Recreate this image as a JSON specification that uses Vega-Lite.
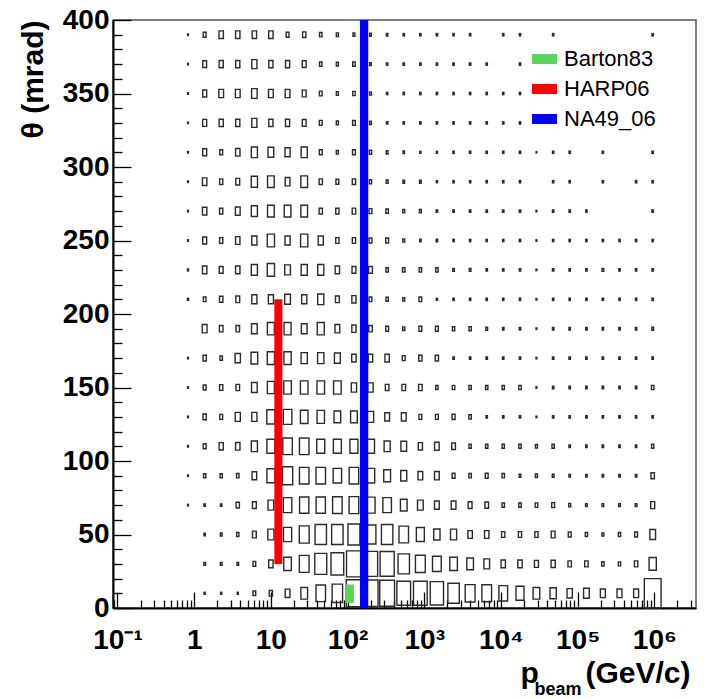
{
"$schema": "https://vega.github.io/schema/vega-lite/v6.json",
"width": 583, "height": 588,
"autosize": {"type": "none"},
"padding": {"left": 113, "top": 20, "right": 8, "bottom": 91},
"background": "white",
"config": {"view": {"stroke": "#555", "strokeWidth": 1.5}, "font": "Liberation Sans"},
"datasets": {
"cells": [
{"p":1.37,"t":10,"n":2},{"p":2.25,"t":10,"n":2},{"p":3.7,"t":10,"n":2},{"p":6.09,"t":10,"n":4.7},{"p":10,"t":10,"n":5.7},{"p":16.5,"t":10,"n":8.3},{"p":27.2,"t":10,"n":11.7},{"p":44.7,"t":10,"n":16.7},{"p":73.6,"t":10,"n":18.3},{"p":121,"t":10,"n":27},{"p":199,"t":10,"n":26.5},{"p":328,"t":10,"n":26},{"p":540,"t":10,"n":24},{"p":889,"t":10,"n":24},{"p":1460,"t":10,"n":23.3},{"p":2410,"t":10,"n":20},{"p":3960,"t":10,"n":17.3},{"p":6520,"t":10,"n":17},{"p":10700,"t":10,"n":15.3},{"p":17700,"t":10,"n":14},{"p":29000,"t":10,"n":11.7},{"p":47900,"t":10,"n":11},{"p":78700,"t":10,"n":9.3},{"p":130000,"t":10,"n":10},{"p":213000,"t":10,"n":8.7},{"p":351000,"t":10,"n":8.7},{"p":578000,"t":10,"n":8.7},{"p":951000,"t":10,"n":29.4},
{"p":1.37,"t":30,"n":3},{"p":2.25,"t":30,"n":3},{"p":3.7,"t":30,"n":3},{"p":6.09,"t":30,"n":4.7},{"p":10,"t":30,"n":7.7},{"p":16.5,"t":30,"n":13.3},{"p":27.2,"t":30,"n":17},{"p":44.7,"t":30,"n":21},{"p":73.6,"t":30,"n":22.3},{"p":121,"t":30,"n":26},{"p":199,"t":30,"n":25},{"p":328,"t":30,"n":24.7},{"p":540,"t":30,"n":20},{"p":889,"t":30,"n":17.3},{"p":1460,"t":30,"n":15.3},{"p":2410,"t":30,"n":13.3},{"p":3960,"t":30,"n":11.7},{"p":6520,"t":30,"n":10},{"p":10700,"t":30,"n":7.7},{"p":17700,"t":30,"n":7.7},{"p":29000,"t":30,"n":7},{"p":47900,"t":30,"n":7.3},{"p":78700,"t":30,"n":6},{"p":130000,"t":30,"n":6},{"p":213000,"t":30,"n":4.3},{"p":351000,"t":30,"n":4},{"p":578000,"t":30,"n":6},{"p":951000,"t":30,"n":12.7},
{"p":1.37,"t":50,"n":2.5},{"p":2.25,"t":50,"n":3},{"p":3.7,"t":50,"n":4},{"p":6.09,"t":50,"n":6.7},{"p":10,"t":50,"n":10.7},{"p":16.5,"t":50,"n":14.3},{"p":27.2,"t":50,"n":17.3},{"p":44.7,"t":50,"n":20},{"p":73.6,"t":50,"n":20},{"p":121,"t":50,"n":21},{"p":199,"t":50,"n":19},{"p":328,"t":50,"n":20},{"p":540,"t":50,"n":16.7},{"p":889,"t":50,"n":14},{"p":1460,"t":50,"n":11},{"p":2410,"t":50,"n":10.7},{"p":3960,"t":50,"n":7.7},{"p":6520,"t":50,"n":7.7},{"p":10700,"t":50,"n":5.7},{"p":17700,"t":50,"n":5.7},{"p":29000,"t":50,"n":5.7},{"p":47900,"t":50,"n":6.7},{"p":78700,"t":50,"n":5},{"p":130000,"t":50,"n":4},{"p":213000,"t":50,"n":3.3},{"p":351000,"t":50,"n":4},{"p":578000,"t":50,"n":5},{"p":951000,"t":50,"n":10},
{"p":0.83,"t":70,"n":1.5},{"p":1.37,"t":70,"n":2.5},{"p":2.25,"t":70,"n":2.5},{"p":3.7,"t":70,"n":5.7},{"p":6.09,"t":70,"n":6.7},{"p":10,"t":70,"n":10},{"p":16.5,"t":70,"n":15},{"p":27.2,"t":70,"n":16.3},{"p":44.7,"t":70,"n":16.3},{"p":73.6,"t":70,"n":16.7},{"p":121,"t":70,"n":17},{"p":199,"t":70,"n":16},{"p":328,"t":70,"n":15},{"p":540,"t":70,"n":11.7},{"p":889,"t":70,"n":10},{"p":1460,"t":70,"n":8.3},{"p":2410,"t":70,"n":8.3},{"p":3960,"t":70,"n":6.7},{"p":6520,"t":70,"n":6.3},{"p":10700,"t":70,"n":4.3},{"p":17700,"t":70,"n":4.3},{"p":29000,"t":70,"n":4.5},{"p":47900,"t":70,"n":5},{"p":78700,"t":70,"n":3.5},{"p":130000,"t":70,"n":3},{"p":213000,"t":70,"n":3},{"p":351000,"t":70,"n":3},{"p":578000,"t":70,"n":3},{"p":951000,"t":70,"n":7},
{"p":0.83,"t":90,"n":1.5},{"p":1.37,"t":90,"n":4},{"p":2.25,"t":90,"n":4},{"p":3.7,"t":90,"n":4.3},{"p":6.09,"t":90,"n":8},{"p":10,"t":90,"n":14},{"p":16.5,"t":90,"n":18},{"p":27.2,"t":90,"n":16.7},{"p":44.7,"t":90,"n":16.7},{"p":73.6,"t":90,"n":14.7},{"p":121,"t":90,"n":16.7},{"p":199,"t":90,"n":14.7},{"p":328,"t":90,"n":12},{"p":540,"t":90,"n":10.5},{"p":889,"t":90,"n":8.3},{"p":1460,"t":90,"n":8.3},{"p":2410,"t":90,"n":5},{"p":3960,"t":90,"n":4.3},{"p":6520,"t":90,"n":5},{"p":10700,"t":90,"n":4.3},{"p":17700,"t":90,"n":3},{"p":29000,"t":90,"n":3.5},{"p":47900,"t":90,"n":3},{"p":78700,"t":90,"n":2.7},{"p":130000,"t":90,"n":2.7},{"p":213000,"t":90,"n":2.7},{"p":351000,"t":90,"n":2.7},{"p":578000,"t":90,"n":2.7},{"p":951000,"t":90,"n":6},
{"p":0.83,"t":110,"n":1.5},{"p":1.37,"t":110,"n":5},{"p":2.25,"t":110,"n":7.3},{"p":3.7,"t":110,"n":7.7},{"p":6.09,"t":110,"n":10.7},{"p":10,"t":110,"n":14},{"p":16.5,"t":110,"n":16.7},{"p":27.2,"t":110,"n":16.7},{"p":44.7,"t":110,"n":14},{"p":73.6,"t":110,"n":14},{"p":121,"t":110,"n":14},{"p":199,"t":110,"n":14},{"p":328,"t":110,"n":10.7},{"p":540,"t":110,"n":10},{"p":889,"t":110,"n":7.3},{"p":1460,"t":110,"n":8},{"p":2410,"t":110,"n":6.5},{"p":3960,"t":110,"n":4},{"p":6520,"t":110,"n":4},{"p":10700,"t":110,"n":4},{"p":17700,"t":110,"n":4},{"p":29000,"t":110,"n":3.5},{"p":47900,"t":110,"n":4},{"p":78700,"t":110,"n":2.5},{"p":130000,"t":110,"n":2.5},{"p":213000,"t":110,"n":2.5},{"p":351000,"t":110,"n":2.5},{"p":578000,"t":110,"n":2.5},{"p":951000,"t":110,"n":4},
{"p":0.83,"t":130,"n":1.5},{"p":1.37,"t":130,"n":5.7},{"p":2.25,"t":130,"n":5},{"p":3.7,"t":130,"n":9},{"p":6.09,"t":130,"n":9},{"p":10,"t":130,"n":14.3},{"p":16.5,"t":130,"n":15},{"p":27.2,"t":130,"n":13.3},{"p":44.7,"t":130,"n":13},{"p":73.6,"t":130,"n":11.7},{"p":121,"t":130,"n":11.7},{"p":199,"t":130,"n":11},{"p":328,"t":130,"n":8.3},{"p":540,"t":130,"n":8.3},{"p":889,"t":130,"n":5},{"p":1460,"t":130,"n":5},{"p":2410,"t":130,"n":5.3},{"p":3960,"t":130,"n":4.3},{"p":6520,"t":130,"n":2.5},{"p":10700,"t":130,"n":2.5},{"p":17700,"t":130,"n":2.5},{"p":29000,"t":130,"n":1.5},{"p":47900,"t":130,"n":2.5},{"p":78700,"t":130,"n":2.5},{"p":130000,"t":130,"n":2.5},{"p":213000,"t":130,"n":2.5},{"p":351000,"t":130,"n":2.5},{"p":578000,"t":130,"n":2.5},{"p":951000,"t":130,"n":2.5},
{"p":0.83,"t":150,"n":1.5},{"p":1.37,"t":150,"n":5},{"p":2.25,"t":150,"n":5.7},{"p":3.7,"t":150,"n":6.3},{"p":6.09,"t":150,"n":10},{"p":10,"t":150,"n":12.3},{"p":16.5,"t":150,"n":13.3},{"p":27.2,"t":150,"n":13.3},{"p":44.7,"t":150,"n":13.3},{"p":73.6,"t":150,"n":13.3},{"p":121,"t":150,"n":9.3},{"p":199,"t":150,"n":9.3},{"p":328,"t":150,"n":6.3},{"p":540,"t":150,"n":6.3},{"p":889,"t":150,"n":6.3},{"p":1460,"t":150,"n":4},{"p":2410,"t":150,"n":4.3},{"p":3960,"t":150,"n":4},{"p":6520,"t":150,"n":4},{"p":10700,"t":150,"n":4},{"p":17700,"t":150,"n":4.3},{"p":29000,"t":150,"n":1.5},{"p":47900,"t":150,"n":2.5},{"p":78700,"t":150,"n":2.5},{"p":130000,"t":150,"n":2.5},{"p":213000,"t":150,"n":2.5},{"p":351000,"t":150,"n":2.5},{"p":578000,"t":150,"n":2.5},{"p":951000,"t":150,"n":4.3},
{"p":0.83,"t":170,"n":1.5},{"p":1.37,"t":170,"n":5.7},{"p":2.25,"t":170,"n":4.3},{"p":3.7,"t":170,"n":9.3},{"p":6.09,"t":170,"n":11.7},{"p":10,"t":170,"n":12.7},{"p":16.5,"t":170,"n":12.7},{"p":27.2,"t":170,"n":11},{"p":44.7,"t":170,"n":11},{"p":73.6,"t":170,"n":10.3},{"p":121,"t":170,"n":7.7},{"p":199,"t":170,"n":7.7},{"p":328,"t":170,"n":7.7},{"p":540,"t":170,"n":5},{"p":889,"t":170,"n":5.7},{"p":1460,"t":170,"n":5.7},{"p":2410,"t":170,"n":2.5},{"p":3960,"t":170,"n":2.5},{"p":6520,"t":170,"n":2.5},{"p":10700,"t":170,"n":2.5},{"p":17700,"t":170,"n":2.5},{"p":29000,"t":170,"n":1.5},{"p":47900,"t":170,"n":2.5},{"p":78700,"t":170,"n":2.5},{"p":130000,"t":170,"n":2.5},{"p":213000,"t":170,"n":2.5},{"p":351000,"t":170,"n":2.5},{"p":578000,"t":170,"n":2.5},{"p":951000,"t":170,"n":2.5},
{"p":1.37,"t":190,"n":8.3},{"p":2.25,"t":190,"n":6.3},{"p":3.7,"t":190,"n":6.3},{"p":6.09,"t":190,"n":10},{"p":10,"t":190,"n":12.3},{"p":16.5,"t":190,"n":12.3},{"p":27.2,"t":190,"n":10},{"p":44.7,"t":190,"n":12.3},{"p":73.6,"t":190,"n":8.3},{"p":121,"t":190,"n":7.3},{"p":199,"t":190,"n":6.3},{"p":328,"t":190,"n":5},{"p":540,"t":190,"n":3.7},{"p":889,"t":190,"n":5},{"p":1460,"t":190,"n":5},{"p":2410,"t":190,"n":4},{"p":3960,"t":190,"n":4},{"p":6520,"t":190,"n":3},{"p":10700,"t":190,"n":2.5},{"p":17700,"t":190,"n":2.5},{"p":29000,"t":190,"n":1.5},{"p":47900,"t":190,"n":2.5},{"p":78700,"t":190,"n":2.5},{"p":130000,"t":190,"n":2.5},{"p":213000,"t":190,"n":2.5},{"p":351000,"t":190,"n":2.5},{"p":578000,"t":190,"n":2.5},{"p":951000,"t":190,"n":3},
{"p":0.83,"t":210,"n":2},{"p":1.37,"t":210,"n":4.7},{"p":2.25,"t":210,"n":6},{"p":3.7,"t":210,"n":6.7},{"p":6.09,"t":210,"n":9},{"p":10,"t":210,"n":9},{"p":16.5,"t":210,"n":10},{"p":27.2,"t":210,"n":9},{"p":44.7,"t":210,"n":10.7},{"p":73.6,"t":210,"n":6.7},{"p":121,"t":210,"n":7.3},{"p":199,"t":210,"n":4.7},{"p":328,"t":210,"n":4},{"p":540,"t":210,"n":3.3},{"p":889,"t":210,"n":4.7},{"p":1460,"t":210,"n":2},{"p":2410,"t":210,"n":2.3},{"p":3960,"t":210,"n":2.3},{"p":6520,"t":210,"n":2.3},{"p":10700,"t":210,"n":2.3},{"p":17700,"t":210,"n":2.3},{"p":29000,"t":210,"n":1.5},{"p":47900,"t":210,"n":2.3},{"p":78700,"t":210,"n":2.3},{"p":130000,"t":210,"n":2.3},{"p":213000,"t":210,"n":2.3},{"p":351000,"t":210,"n":2.3},{"p":578000,"t":210,"n":2.3},{"p":951000,"t":210,"n":2.3},
{"p":0.83,"t":230,"n":2},{"p":1.37,"t":230,"n":7.7},{"p":2.25,"t":230,"n":6.7},{"p":3.7,"t":230,"n":7.7},{"p":6.09,"t":230,"n":10.7},{"p":10,"t":230,"n":12.7},{"p":16.5,"t":230,"n":10},{"p":27.2,"t":230,"n":10.7},{"p":44.7,"t":230,"n":10.7},{"p":73.6,"t":230,"n":7.7},{"p":121,"t":230,"n":6.7},{"p":199,"t":230,"n":6.7},{"p":328,"t":230,"n":4.3},{"p":540,"t":230,"n":4.3},{"p":889,"t":230,"n":4.3},{"p":1460,"t":230,"n":4.3},{"p":2410,"t":230,"n":3},{"p":3960,"t":230,"n":3},{"p":6520,"t":230,"n":2.5},{"p":10700,"t":230,"n":2.5},{"p":17700,"t":230,"n":2.5},{"p":29000,"t":230,"n":1.5},{"p":47900,"t":230,"n":2.5},{"p":78700,"t":230,"n":2.5},{"p":130000,"t":230,"n":2.5},{"p":213000,"t":230,"n":3},{"p":351000,"t":230,"n":2.5},{"p":578000,"t":230,"n":2.5},{"p":951000,"t":230,"n":2.5},
{"p":0.83,"t":250,"n":1.5},{"p":1.37,"t":250,"n":7},{"p":2.25,"t":250,"n":5.7},{"p":3.7,"t":250,"n":7.7},{"p":6.09,"t":250,"n":9},{"p":10,"t":250,"n":12.7},{"p":16.5,"t":250,"n":9},{"p":27.2,"t":250,"n":12.7},{"p":44.7,"t":250,"n":9},{"p":73.6,"t":250,"n":5.7},{"p":121,"t":250,"n":5.7},{"p":199,"t":250,"n":5},{"p":328,"t":250,"n":5},{"p":540,"t":250,"n":3.3},{"p":889,"t":250,"n":2.5},{"p":1460,"t":250,"n":2.5},{"p":2410,"t":250,"n":2.3},{"p":3960,"t":250,"n":2.3},{"p":6520,"t":250,"n":2.3},{"p":10700,"t":250,"n":2.3},{"p":17700,"t":250,"n":2.3},{"p":29000,"t":250,"n":1.5},{"p":47900,"t":250,"n":2.3},{"p":78700,"t":250,"n":2.3},{"p":130000,"t":250,"n":2.3},{"p":213000,"t":250,"n":2.3},{"p":351000,"t":250,"n":2.3},{"p":578000,"t":250,"n":2.3},{"p":951000,"t":250,"n":2.3},
{"p":0.83,"t":270,"n":1.5},{"p":1.37,"t":270,"n":7.7},{"p":2.25,"t":270,"n":5.7},{"p":3.7,"t":270,"n":8.3},{"p":6.09,"t":270,"n":10.7},{"p":10,"t":270,"n":11.7},{"p":16.5,"t":270,"n":11.7},{"p":27.2,"t":270,"n":11.7},{"p":44.7,"t":270,"n":5.7},{"p":73.6,"t":270,"n":5.7},{"p":121,"t":270,"n":6},{"p":199,"t":270,"n":5},{"p":328,"t":270,"n":4.3},{"p":540,"t":270,"n":3.3},{"p":889,"t":270,"n":3.3},{"p":1460,"t":270,"n":2.5},{"p":2410,"t":270,"n":2.5},{"p":3960,"t":270,"n":2.5},{"p":6520,"t":270,"n":2.5},{"p":10700,"t":270,"n":2.5},{"p":17700,"t":270,"n":2.5},{"p":29000,"t":270,"n":1.5},{"p":47900,"t":270,"n":2.5},{"p":78700,"t":270,"n":2.5},{"p":130000,"t":270,"n":2.3},{"p":951000,"t":270,"n":2.5},
{"p":0.83,"t":290,"n":1.5},{"p":1.37,"t":290,"n":7.7},{"p":2.25,"t":290,"n":5.7},{"p":3.7,"t":290,"n":6.7},{"p":6.09,"t":290,"n":11},{"p":10,"t":290,"n":11.7},{"p":16.5,"t":290,"n":8.3},{"p":27.2,"t":290,"n":11.7},{"p":44.7,"t":290,"n":5.7},{"p":73.6,"t":290,"n":5},{"p":121,"t":290,"n":5.7},{"p":199,"t":290,"n":4},{"p":328,"t":290,"n":3.3},{"p":540,"t":290,"n":3},{"p":889,"t":290,"n":3},{"p":1460,"t":290,"n":2},{"p":2410,"t":290,"n":2.3},{"p":3960,"t":290,"n":2.3},{"p":6520,"t":290,"n":2.3},{"p":10700,"t":290,"n":2.3},{"p":17700,"t":290,"n":2.3},{"p":47900,"t":290,"n":2.3},{"p":78700,"t":290,"n":2.3},{"p":213000,"t":290,"n":2.3},{"p":578000,"t":290,"n":2.3},{"p":951000,"t":290,"n":2.3},
{"p":0.83,"t":310,"n":1.5},{"p":1.37,"t":310,"n":7},{"p":2.25,"t":310,"n":5},{"p":3.7,"t":310,"n":7.7},{"p":6.09,"t":310,"n":10.7},{"p":10,"t":310,"n":10},{"p":16.5,"t":310,"n":9},{"p":27.2,"t":310,"n":10.7},{"p":44.7,"t":310,"n":5},{"p":73.6,"t":310,"n":3.7},{"p":121,"t":310,"n":5},{"p":199,"t":310,"n":4},{"p":328,"t":310,"n":3.3},{"p":540,"t":310,"n":2.5},{"p":889,"t":310,"n":2},{"p":1460,"t":310,"n":2},{"p":2410,"t":310,"n":2.3},{"p":3960,"t":310,"n":2.3},{"p":6520,"t":310,"n":2.3},{"p":10700,"t":310,"n":2.3},{"p":17700,"t":310,"n":2.3},{"p":29000,"t":310,"n":1.2},{"p":47900,"t":310,"n":2.3},{"p":78700,"t":310,"n":2.3},{"p":213000,"t":310,"n":2.3},{"p":951000,"t":310,"n":2.3},
{"p":0.83,"t":330,"n":1.5},{"p":1.37,"t":330,"n":7},{"p":2.25,"t":330,"n":7.3},{"p":3.7,"t":330,"n":7.3},{"p":6.09,"t":330,"n":9},{"p":10,"t":330,"n":7.3},{"p":16.5,"t":330,"n":7.3},{"p":27.2,"t":330,"n":6.7},{"p":44.7,"t":330,"n":5},{"p":73.6,"t":330,"n":3.7},{"p":121,"t":330,"n":4.7},{"p":199,"t":330,"n":3.3},{"p":328,"t":330,"n":2.5},{"p":540,"t":330,"n":2.3},{"p":889,"t":330,"n":2.3},{"p":1460,"t":330,"n":2.3},{"p":2410,"t":330,"n":2.3},{"p":3960,"t":330,"n":2.3},{"p":6520,"t":330,"n":2.3},{"p":10700,"t":330,"n":2.3},{"p":17700,"t":330,"n":2.3},
{"p":0.83,"t":350,"n":1.5},{"p":1.37,"t":350,"n":7},{"p":2.25,"t":350,"n":8.3},{"p":3.7,"t":350,"n":8.3},{"p":6.09,"t":350,"n":9.7},{"p":10,"t":350,"n":8.3},{"p":16.5,"t":350,"n":8.3},{"p":27.2,"t":350,"n":6.7},{"p":44.7,"t":350,"n":4.7},{"p":73.6,"t":350,"n":3.7},{"p":121,"t":350,"n":4.3},{"p":199,"t":350,"n":3.3},{"p":328,"t":350,"n":2.3},{"p":540,"t":350,"n":2.3},{"p":889,"t":350,"n":2.3},{"p":1460,"t":350,"n":2.3},{"p":2410,"t":350,"n":2.3},{"p":3960,"t":350,"n":2.3},{"p":6520,"t":350,"n":2.3},{"p":10700,"t":350,"n":2.3},{"p":17700,"t":350,"n":2.3},
{"p":0.83,"t":370,"n":1.5},{"p":1.37,"t":370,"n":6.7},{"p":2.25,"t":370,"n":7.3},{"p":3.7,"t":370,"n":7.3},{"p":6.09,"t":370,"n":9},{"p":10,"t":370,"n":7.3},{"p":16.5,"t":370,"n":7.3},{"p":27.2,"t":370,"n":6.7},{"p":44.7,"t":370,"n":4.3},{"p":73.6,"t":370,"n":3.7},{"p":121,"t":370,"n":4.3},{"p":199,"t":370,"n":3},{"p":328,"t":370,"n":2.3},{"p":540,"t":370,"n":2.3},{"p":889,"t":370,"n":2.3},{"p":1460,"t":370,"n":2.3},{"p":2410,"t":370,"n":2.3},{"p":3960,"t":370,"n":2.3},{"p":6520,"t":370,"n":2.3},{"p":17700,"t":370,"n":2.3},
{"p":0.83,"t":390,"n":1.5},{"p":1.37,"t":390,"n":5},{"p":2.25,"t":390,"n":7.7},{"p":3.7,"t":390,"n":7.7},{"p":6.09,"t":390,"n":7.7},{"p":10,"t":390,"n":7.7},{"p":16.5,"t":390,"n":5},{"p":27.2,"t":390,"n":5.7},{"p":44.7,"t":390,"n":4.3},{"p":73.6,"t":390,"n":3.7},{"p":121,"t":390,"n":3.3},{"p":199,"t":390,"n":3},{"p":328,"t":390,"n":2.5},{"p":540,"t":390,"n":2.3},{"p":889,"t":390,"n":2.3},{"p":1460,"t":390,"n":2.3},{"p":2410,"t":390,"n":2.3},{"p":3960,"t":390,"n":2.3},{"p":10700,"t":390,"n":2.3},{"p":17700,"t":390,"n":2.3},{"p":47900,"t":390,"n":2.3},{"p":951000,"t":390,"n":2.3}
],
"exp": [
{"exp":"Barton83","pmin":95,"pmax":121,"tmin":3.5,"tmax":16},
{"exp":"HARP06","pmin":11.1,"pmax":14.1,"tmin":30,"tmax":210}
],
"exp2": [
{"exp":"NA49_06","pmin":145,"pmax":186,"tmin":0,"tmax":400}
]
},
"resolve": {"axis": {"x": "independent", "y": "independent"}},
"layer": [
{
"data": {"name": "cells"},
"mark": {"type": "point", "shape": "M-0.57,-1H0.57V1H-0.57Z", "filled": false, "stroke": "#2b2b2b", "strokeWidth": 1.4, "opacity": 1},
"encoding": {
"x": {"field": "p", "type": "quantitative", "scale": {"type": "log", "domain": [0.0874, 3490000], "nice": false},
 "axis": {"orient": "bottom", "values": [0.1, 1, 10, 100, 1000, 10000, 100000, 1000000],
  "labelExpr": "datum.value < 0.5 ? '10⁻¹' : datum.value < 5 ? '1' : datum.value < 50 ? '10' : datum.value < 500 ? '10²' : datum.value < 5000 ? '10³' : datum.value < 50000 ? '10⁴' : datum.value < 500000 ? '10⁵' : '10⁶'",
  "grid": false, "tickSize": -16, "tickColor": "#000", "tickWidth": 1.3, "domainColor": "#000", "domainWidth": 2,
  "labelFont": "Liberation Sans", "labelFontSize": 28, "labelFontWeight": "bold", "labelColor": "#000", "labelPadding": 34, "labelFlush": false, "labelOverlap": false,
  "title": "p", "titleFont": "Liberation Sans", "titleFontSize": 30, "titleFontWeight": "bold", "titleColor": "#000",
  "titleX": 407, "titleY": 74, "titleAlign": "left", "titleBaseline": "alphabetic"}},
"y": {"field": "t", "type": "quantitative", "scale": {"domain": [0, 400], "nice": false},
 "axis": {"orient": "left", "values": [0, 50, 100, 150, 200, 250, 300, 350, 400], "grid": false,
  "tickSize": -18, "tickColor": "#000", "tickWidth": 1.3, "domainColor": "#000", "domainWidth": 2,
  "labelFont": "Liberation Sans", "labelFontSize": 28, "labelFontWeight": "bold", "labelColor": "#000", "labelPadding": 22, "labelFlush": false, "labelOverlap": false,
  "title": "θ (mrad)", "titleFont": "Liberation Sans", "titleFontSize": 30, "titleFontWeight": "bold", "titleColor": "#000",
  "titleX": -80, "titleY": 0, "titleAngle": 270, "titleAlign": "right", "titleBaseline": "middle"}},
"size": {"field": "n", "type": "quantitative", "scale": {"type": "pow", "exponent": 2, "domain": [0, 29.4], "range": [0, 864]}, "legend": null}
}
},
{
"data": {"name": "exp"},
"mark": {"type": "rect"},
"encoding": {
"x": {"field": "pmin", "type": "quantitative",
 "axis": {"orient": "bottom", "values": [0.09,0.2,0.3,0.4,0.5,0.6,0.7,0.8,0.9,2,3,4,5,6,7,8,9,20,30,40,50,60,70,80,90,200,300,400,500,600,700,800,900,2000,3000,4000,5000,6000,7000,8000,9000,20000,30000,40000,50000,60000,70000,80000,90000,200000,300000,400000,500000,600000,700000,800000,900000,2000000,3000000],
  "labels": false, "domain": false, "grid": false, "tickSize": -8, "tickColor": "#000", "tickWidth": 1.3,
  "title": "(GeV/c)", "titleFont": "Liberation Sans", "titleFontSize": 30, "titleFontWeight": "bold", "titleColor": "#000",
  "titleX": 577, "titleY": 74, "titleAlign": "right", "titleBaseline": "alphabetic"}},
"x2": {"field": "pmax"},
"y": {"field": "tmin", "type": "quantitative",
 "axis": {"orient": "left", "values": [10,20,30,40,60,70,80,90,110,120,130,140,160,170,180,190,210,220,230,240,260,270,280,290,310,320,330,340,360,370,380,390],
  "labels": false, "domain": false, "grid": false, "tickSize": -9, "tickColor": "#000", "tickWidth": 1.3, "title": null}},
"y2": {"field": "tmax"},
"color": {"field": "exp", "type": "nominal",
 "scale": {"domain": ["Barton83", "HARP06", "NA49_06"], "range": ["#5bd65b", "#ff0000", "#0000ff"]},
 "legend": {"orient": "none", "legendX": 420.5, "legendY": 28, "title": null, "padding": 0,
  "symbolType": "M-1.25,-0.5H1.25V0.5H-1.25Z", "symbolSize": 400, "symbolStrokeWidth": 0, "symbolOpacity": 1,
  "labelFont": "Liberation Sans", "labelFontSize": 22, "labelColor": "#000", "labelOffset": 8.5, "rowPadding": 8, "labelLimit": 0}}
}
},
{
"data": {"name": "exp2"},
"mark": {"type": "rect"},
"encoding": {
"x": {"field": "pmin", "type": "quantitative",
 "axis": {"orient": "bottom", "labels": false, "ticks": false, "domain": false, "grid": false,
  "title": "beam", "titleFont": "Liberation Sans", "titleFontSize": 18, "titleFontWeight": "bold", "titleColor": "#000",
  "titleX": 421, "titleY": 86, "titleAlign": "left", "titleBaseline": "alphabetic"}},
"x2": {"field": "pmax"},
"y": {"field": "tmin", "type": "quantitative", "axis": null},
"y2": {"field": "tmax"},
"color": {"field": "exp", "type": "nominal"}
}
}
]
}
